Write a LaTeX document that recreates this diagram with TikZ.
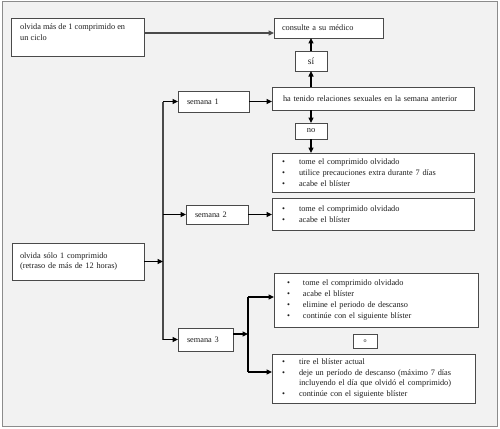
\documentclass[tikz,border=0pt]{standalone}
\usepackage{fontspec}
\setmainfont{Liberation Serif}
\usetikzlibrary{arrows.meta}
\definecolor{bgc}{HTML}{F2F2F2}
\definecolor{framec}{HTML}{8C8C8C}
\definecolor{boxc}{HTML}{4A4A4A}
\definecolor{txtc}{HTML}{1E1E1E}
\newcommand\bxn[7]{%
  \pgfmathsetmacro\bw{#4-#2}\pgfmathsetmacro\bh{#5-#3}\pgfmathsetmacro\tw{#4-#2-2*#6}%
  \node[bx, minimum width=\bw pt, minimum height=\bh pt, text width=\tw pt,
        inner xsep=#6 pt, anchor=north west] (#1) at (#2pt,-#3pt) {#7};}
\newcommand\bl[1]{\makebox[17pt][l]{\textbullet}#1}
\newcommand\blc[1]{\makebox[16pt][l]{\textbullet}#1}
\begin{document}
\begin{tikzpicture}[x=1pt,y=1pt,
  bx/.style={draw=boxc, line width=0.9pt, fill=white, inner ysep=0pt, outer sep=0pt,
    align=left, font=\fontsize{8.3}{10.8}\selectfont, text=txtc},
  cbx/.style={draw=boxc, line width=0.9pt, fill=white, inner sep=0pt, outer sep=0pt,
    align=center, font=\fontsize{9.5}{10}\selectfont, text=txtc},
  txt/.style={inner sep=0pt, align=left, font=\fontsize{8.3}{10.8}\selectfont, text=txtc},
  arr/.style={line width=1.1pt, draw=black, -{Triangle[length=5.5pt,width=5pt]}},
  ln/.style={line width=1.1pt, draw=black}]
\useasboundingbox (0,0) rectangle (500,-428);
\draw[framec, line width=1pt, fill=bgc] (2,-2) rectangle (497,-426);

% boxes
\node[bx, minimum width=133pt, minimum height=38pt, anchor=north west] (A) at (11,-18) {};
\node[txt, anchor=north west] (Atxt) at ([xshift=9pt,yshift=-5.5pt]A.north west)
  {olvida más de 1 comprimido en\\un ciclo};
\bxn{cons}{274}{18}{383}{38}{8}{consulte a su médico}
\node[cbx, minimum width=32pt, minimum height=20pt, anchor=north west] (si) at (295,-51) {sí};
\bxn{rel}{272}{87}{474}{110}{11}{ha tenido relaciones sexuales en la semana anterior}
\bxn{sem1}{178}{91}{249}{112}{9}{semana 1}
\node[cbx, minimum width=32pt, minimum height=16pt, anchor=north west, font=\fontsize{8.5}{10}\selectfont] (no) at (295,-123) {no};
\bxn{b1}{272}{153}{474}{192}{10}{\bl{tome el comprimido olvidado}\\\bl{utilice precauciones extra durante 7 días}\\\bl{acabe el blíster}}
\bxn{b2}{272}{198}{474}{230}{10}{\bl{tome el comprimido olvidado}\\\bl{acabe el blíster}}
\bxn{sem2}{186}{205}{248}{224}{9}{semana 2}
\bxn{one}{12}{243}{144}{280}{8}{olvida sólo 1 comprimido\\(retraso de más de 12 horas)}
\bxn{sem3}{178}{328}{233}{351}{9}{semana 3}
\bxn{b3}{274}{273}{478}{327}{13}{\blc{tome el comprimido olvidado}\\\blc{acabe el blíster}\\\blc{elimine el periodo de descanso}\\\blc{continúe con el siguiente blíster}}
\node[cbx, minimum width=24pt, minimum height=14pt, anchor=north west, font=\fontsize{6}{7}\selectfont] (o) at (353,-334) {o};
\bxn{b4}{272}{354}{475}{403}{10}{\bl{tire el blíster actual}\\\bl{deje un período de descanso (máximo 7 días}\\\hspace*{17pt}incluyendo el día que olvidó el comprimido)\\\bl{continúe con el siguiente blíster}}

% helper coordinates
\coordinate (yA) at (0,-33);
\coordinate (busT) at (163,0);
\coordinate (busB) at (248,0);
\coordinate (y3) at (0,-334);
\coordinate (y3a) at (0,-297);
\coordinate (y3b) at (0,-372);

% connectors
\draw[ln, draw=boxc, line width=1.4pt, -{Triangle[length=5.5pt,width=5pt]}] (A.east |- yA) -- (cons.west |- yA);
\draw[arr] (si.north) -- (si.north |- cons.south);
\draw[arr] (rel.north -| si.north) -- (si.south);
\draw[arr] (rel.south -| no.north) -- (no.north);
\draw[arr] (no.south) -- (no.south |- b1.north);
\draw[arr] (sem1.east) -- (sem1.east -| rel.west);
\draw[ln, draw=boxc] (busT |- sem1.west) -- (busT |- sem3.west);
\draw[arr] (busT |- sem1.west) -- (sem1.west);
\draw[arr] (busT |- sem2.west) -- (sem2.west);
\draw[arr] (busT |- sem3.west) -- (sem3.west);
\draw[arr] (one.east) -- (busT |- one.east);
\draw[arr] (sem2.east) -- (sem2.east -| b2.west);
\draw[arr] (sem3.east |- y3) -- (busB |- y3);
\draw[ln] (busB |- y3a) -- (busB |- y3b);
\draw[arr] (busB |- y3a) -- (b3.west |- y3a);
\draw[arr] (busB |- y3b) -- (b4.west |- y3b);
\end{tikzpicture}
\end{document}
